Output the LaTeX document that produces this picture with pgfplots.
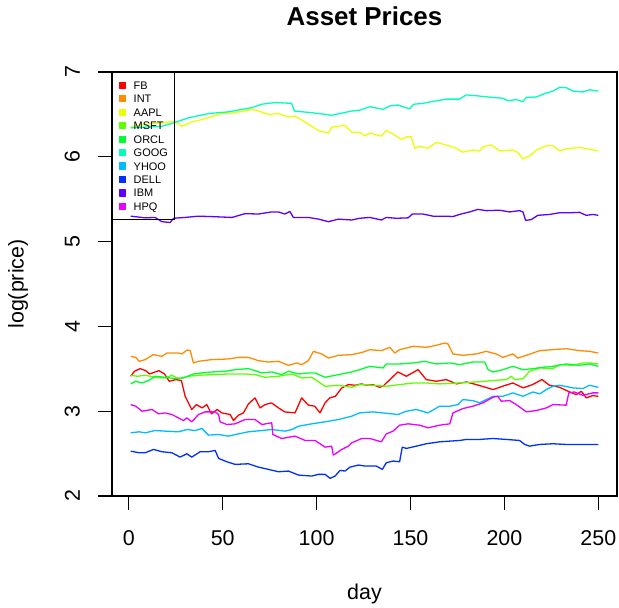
\documentclass[border=0pt]{standalone}
\usepackage{fontspec}
\setmainfont{Liberation Sans}
\usepackage{pgfplots}
\pgfplotsset{compat=1.18}
\definecolor{cFB}{HTML}{FF0000}
\definecolor{cINT}{HTML}{FF8C00}
\definecolor{cAAPL}{HTML}{EAFF00}
\definecolor{cMSFT}{HTML}{5DFF00}
\definecolor{cORCL}{HTML}{00FF2F}
\definecolor{cGOOG}{HTML}{00FFBB}
\definecolor{cYHOO}{HTML}{00BBFF}
\definecolor{cDELL}{HTML}{002FFF}
\definecolor{cIBM}{HTML}{5D00FF}
\definecolor{cHPQ}{HTML}{EA00FF}
\begin{document}
\begin{tikzpicture}
\useasboundingbox (-112bp,-112bp) rectangle (507bp,496bp);
\begin{axis}[
  at={(0,0)}, anchor=south west,
  scale only axis, width=505bp, height=424bp,
  xmin=-8.96, xmax=259.96, ymin=2, ymax=7,
  xtick={0,50,100,150,200,250}, ytick={2,3,4,5,6,7},
  tick pos=left, tick align=outside, major tick length=13.5bp,
  axis line style={line width=1.3bp},
  every tick/.style={black, line width=1.3bp},
  tick label style={font=\fontsize{21.5}{24}\selectfont},
  /pgf/number format/assume math mode=true,
  xticklabel style={anchor=north, inner sep=0pt},
  xticklabel shift=20.5bp,
  yticklabel style={rotate=90, anchor=south, inner sep=0pt},
  yticklabel shift=18.5bp,
  title={Asset Prices},
  title style={font=\bfseries\fontsize{26}{30}\selectfont, at={(axis description cs:0.5,1.118)}, anchor=center, inner sep=0pt},
  xlabel={day},
  xlabel style={font=\fontsize{21.5}{24}\selectfont, at={(axis description cs:0.5,-0.231)}, anchor=center, inner sep=0pt},
  ylabel={log(price)},
  ylabel style={font=\fontsize{21.5}{24}\selectfont, at={(axis description cs:-0.1861,0.5)}, anchor=center, inner sep=0pt},
  legend style={at={(0,1)}, anchor=north west, draw=black, line width=1.3bp, fill=none,
    inner xsep=6.5bp, inner ysep=6bp, font=\fontsize{11}{13}\selectfont,
    nodes={inner sep=0pt, text height=10.665bp, text depth=2.785bp},
    column sep=7.3bp, row sep=0pt, cells={anchor=west}},
  legend image code/.code={\fill[#1] (0bp,-3bp) rectangle (6bp,3bp);},
  every axis plot/.append style={line width=1.3bp, line join=round, mark=none},
]
\addplot[color=cFB] coordinates {(1,3.412)(3,3.471)(6,3.502)(9,3.478)(11,3.439)(16,3.478)(19,3.439)(21.5,3.353)(25,3.373)(28,3.361)(30,3.176)(33.5,3.02)(36,3.078)(39,3.039)(41.5,3.078)(44,2.969)(47,3.02)(49.5,2.98)(54,2.961)(55.7,2.89)(58.4,2.953)(61,2.98)(63.7,3.086)(67.2,3.157)(69.9,3.039)(72.5,3.078)(76,3.098)(79.7,3.039)(83,2.992)(88.5,2.98)(92,3.157)(95.6,3.071)(99,3.059)(101.8,2.98)(104.5,3.098)(107,3.157)(110,3.176)(113.4,3.275)(117,3.314)(120.5,3.306)(124,3.322)(126.4,3.306)(130,3.314)(133.5,3.282)(135.3,3.294)(139,3.373)(143.3,3.463)(147.8,3.412)(154,3.49)(158.4,3.373)(163.7,3.353)(169,3.373)(174.4,3.322)(179.7,3.345)(185,3.314)(194,3.255)(199,3.294)(204.5,3.333)(210,3.275)(215,3.314)(220,3.373)(224,3.306)(229.4,3.282)(234.7,3.227)(238.3,3.196)(241,3.235)(243.6,3.157)(247,3.184)(250,3.176)};
\addlegendentry{FB}
\addplot[color=cINT] coordinates {(1,3.647)(3.7,3.635)(5.5,3.588)(8.7,3.608)(13,3.667)(17.6,3.647)(20.3,3.686)(26.4,3.686)(28.2,3.675)(31,3.722)(32.7,3.714)(34.4,3.569)(37,3.588)(44,3.608)(53,3.616)(58.4,3.635)(63.7,3.635)(69,3.596)(74.3,3.58)(79.7,3.588)(85,3.541)(89.4,3.569)(92,3.549)(95.6,3.596)(98.3,3.706)(102.7,3.675)(106.3,3.627)(111.6,3.659)(118.7,3.667)(124,3.692)(128.4,3.726)(134.5,3.714)(139,3.753)(141.6,3.686)(144.2,3.726)(151.4,3.765)(158.4,3.753)(163.7,3.777)(168.2,3.804)(170,3.792)(172.6,3.675)(178,3.659)(185,3.675)(190.3,3.706)(195.6,3.675)(199.2,3.635)(204.5,3.675)(207.2,3.627)(211.7,3.659)(218.8,3.714)(225.8,3.726)(233,3.737)(240,3.714)(245.3,3.706)(250,3.686)};
\addlegendentry{INT}
\addplot[color=cAAPL] coordinates {(1,6.353)(8.7,6.385)(17.6,6.40)(24.7,6.42)(28.2,6.36)(33.5,6.41)(40.6,6.45)(49.5,6.51)(56.6,6.52)(65.5,6.56)(69,6.54)(74.3,6.50)(79.7,6.51)(85,6.47)(88.5,6.48)(93.8,6.41)(101,6.31)(106.3,6.28)(108,6.35)(115,6.37)(118.7,6.29)(122.9,6.29)(125.6,6.245)(128.3,6.28)(134.5,6.245)(137.1,6.31)(140.7,6.27)(145.1,6.205)(147.8,6.235)(150.4,6.235)(152.2,6.10)(154.9,6.125)(159.3,6.10)(163.7,6.17)(169,6.14)(174.4,6.10)(177.9,6.055)(183.2,6.08)(186.8,6.07)(188.6,6.12)(193,6.14)(197.4,6.07)(204.5,6.08)(207.2,6.05)(209.9,5.975)(213.4,6.01)(217,6.08)(222.3,6.13)(225.8,6.13)(229.4,6.07)(233,6.095)(240,6.11)(245.3,6.09)(250,6.07)};
\addlegendentry{AAPL}
\addplot[color=cMSFT] coordinates {(1,3.424)(4.5,3.412)(8.7,3.424)(14,3.40)(19.4,3.392)(22.9,3.424)(26.4,3.384)(31.8,3.412)(37.1,3.424)(44.2,3.431)(53,3.439)(61.9,3.439)(67.2,3.431)(72.5,3.40)(79.7,3.412)(86.8,3.439)(92.1,3.392)(97.4,3.40)(104.5,3.294)(111.6,3.306)(118.7,3.282)(122.9,3.314)(130,3.306)(137.1,3.294)(144.2,3.314)(151.4,3.333)(158.4,3.333)(165.5,3.322)(176.2,3.333)(185,3.345)(193.9,3.361)(201,3.373)(203.7,3.412)(205.4,3.373)(209.9,3.384)(213.4,3.471)(218.8,3.51)(225.8,3.502)(229.4,3.549)(236.5,3.541)(241.8,3.569)(245.3,3.569)(250,3.557)};
\addlegendentry{MSFT}
\addplot[color=cORCL] coordinates {(1,3.322)(3.7,3.353)(7,3.333)(10.5,3.361)(14,3.412)(19.4,3.40)(24.7,3.384)(29.1,3.392)(34.4,3.439)(38.9,3.451)(44.2,3.463)(51.3,3.471)(56.6,3.49)(63.7,3.502)(67.2,3.478)(70.8,3.451)(76.1,3.463)(81.4,3.431)(85,3.471)(90.3,3.439)(95.6,3.451)(99.2,3.451)(104.5,3.40)(111.6,3.431)(118.7,3.463)(122.9,3.49)(128.3,3.529)(135.4,3.51)(137.1,3.557)(144.2,3.557)(151.4,3.569)(157.6,3.588)(163.7,3.557)(170.9,3.569)(176.2,3.549)(183.2,3.58)(189.5,3.58)(191.3,3.49)(193.9,3.463)(199.2,3.49)(204.5,3.529)(209.9,3.49)(215.2,3.502)(220.5,3.518)(225.8,3.529)(232.9,3.557)(240,3.541)(245.3,3.557)(250,3.529)};
\addlegendentry{ORCL}
\addplot[color=cGOOG] coordinates {(1,6.341)(17.6,6.36)(23.8,6.40)(31.8,6.46)(42.4,6.51)(53,6.53)(65.5,6.58)(70.8,6.62)(77.9,6.64)(86.7,6.63)(88.2,6.54)(97.4,6.52)(108,6.49)(118.7,6.54)(122.9,6.55)(128.3,6.59)(135.4,6.56)(138.9,6.60)(143.3,6.61)(149.5,6.565)(151.7,6.62)(156.6,6.63)(163.7,6.66)(169,6.68)(176,6.68)(179.7,6.73)(185,6.72)(193.9,6.70)(199.2,6.69)(201.9,6.66)(206.3,6.675)(209.9,6.65)(211.6,6.70)(217,6.705)(221.4,6.745)(225.8,6.775)(229.4,6.82)(233,6.815)(236.5,6.775)(241.8,6.765)(245.3,6.79)(250,6.775)};
\addlegendentry{GOOG}
\addplot[color=cYHOO] coordinates {(1,2.745)(5.5,2.757)(8.7,2.745)(14,2.772)(19.4,2.765)(26.4,2.757)(30.9,2.784)(35.3,2.772)(38.9,2.796)(42.4,2.718)(47.8,2.725)(53,2.706)(58.4,2.733)(63.7,2.757)(70.8,2.772)(76.1,2.784)(83.2,2.765)(86.8,2.784)(90.3,2.823)(97.4,2.851)(104.5,2.875)(111.6,2.902)(118.7,2.941)(122.9,2.98)(130,2.992)(135.3,2.98)(143.3,2.961)(147.8,3.00)(153.1,3.02)(159.3,2.98)(165.5,3.059)(170.9,3.059)(175.3,3.078)(177.9,3.137)(183.2,3.125)(186.8,3.098)(193.9,3.176)(199.2,3.176)(204.5,3.216)(209.9,3.176)(215.2,3.227)(218.8,3.204)(222.3,3.255)(225.8,3.294)(229.4,3.306)(236.5,3.275)(241.8,3.267)(245.3,3.306)(250,3.282)};
\addlegendentry{YHOO}
\addplot[color=cDELL] coordinates {(1,2.529)(5.5,2.51)(8.7,2.51)(13.2,2.549)(17.6,2.522)(22.9,2.51)(27.3,2.459)(30.9,2.498)(33.5,2.459)(38,2.522)(42.4,2.522)(46,2.537)(47.8,2.443)(52.2,2.404)(56.6,2.373)(63.7,2.38)(69,2.341)(74.3,2.314)(79.7,2.286)(85,2.294)(90.3,2.247)(97.4,2.235)(100.9,2.255)(104.5,2.255)(107.2,2.208)(109.8,2.235)(112.5,2.302)(115.1,2.294)(117.8,2.341)(122.3,2.365)(125.8,2.353)(128.3,2.353)(131.8,2.353)(135,2.314)(137.1,2.392)(140.7,2.412)(144.2,2.404)(145.6,2.576)(147.8,2.561)(153.1,2.588)(158.4,2.616)(165.5,2.639)(176.2,2.655)(179.7,2.667)(186.8,2.667)(193.9,2.678)(201,2.667)(208.1,2.655)(210.8,2.608)(213.4,2.588)(218.8,2.608)(225.8,2.616)(232.9,2.608)(240,2.608)(250,2.608)};
\addlegendentry{DELL}
\addplot[color=cIBM] coordinates {(1,5.30)(8.7,5.28)(14,5.285)(17.6,5.235)(22,5.225)(23.8,5.275)(30,5.285)(37,5.30)(44,5.295)(55,5.285)(61.9,5.33)(69,5.325)(76,5.35)(79.7,5.35)(83,5.325)(85.8,5.355)(87.6,5.285)(95.6,5.285)(101,5.265)(106.3,5.235)(111.6,5.265)(118.7,5.255)(122.9,5.275)(128.3,5.285)(134.5,5.255)(137.1,5.285)(142.5,5.275)(148.7,5.28)(151,5.325)(156.6,5.325)(162,5.30)(169,5.30)(172.6,5.295)(176,5.32)(181.5,5.35)(185.9,5.38)(190.3,5.365)(197.4,5.37)(202.8,5.35)(208.1,5.365)(209.9,5.35)(211.3,5.25)(214.3,5.26)(217.8,5.31)(224,5.32)(229.4,5.34)(234.8,5.34)(240,5.345)(243.6,5.31)(247.1,5.32)(250,5.31)};
\addlegendentry{IBM}
\addplot[color=cHPQ] coordinates {(1,3.078)(3.7,3.059)(7,3.00)(12.4,3.02)(15.8,2.969)(19.4,2.98)(22.9,2.961)(26.4,2.921)(29.1,2.89)(30.9,2.921)(33.5,2.875)(37.1,2.961)(40.6,2.992)(46,2.992)(47.8,2.961)(48.6,2.875)(52.2,2.843)(56.6,2.851)(61.9,2.902)(67.2,2.902)(70.8,2.843)(76.1,2.863)(76.7,2.725)(81.4,2.678)(88.5,2.706)(93.9,2.655)(99.2,2.655)(104.5,2.576)(108,2.588)(108.9,2.482)(113.4,2.549)(116.9,2.588)(118.7,2.627)(124,2.678)(128.3,2.678)(134.5,2.639)(137.1,2.733)(140.7,2.765)(144.2,2.835)(148.7,2.851)(154.9,2.835)(159.3,2.804)(165.5,2.835)(170.9,2.851)(172.6,2.98)(177.9,3.031)(183.2,3.059)(188.6,3.098)(193.9,3.165)(196.5,3.176)(198.3,3.118)(202.8,3.125)(206.3,3.078)(211.7,2.992)(217,3.008)(222.3,3.039)(225.8,3.078)(232.9,3.071)(234.3,3.216)(237.2,3.227)(241.7,3.188)(247.1,3.216)(250,3.216)};
\addlegendentry{HPQ}
\end{axis}
\end{tikzpicture}
\end{document}
